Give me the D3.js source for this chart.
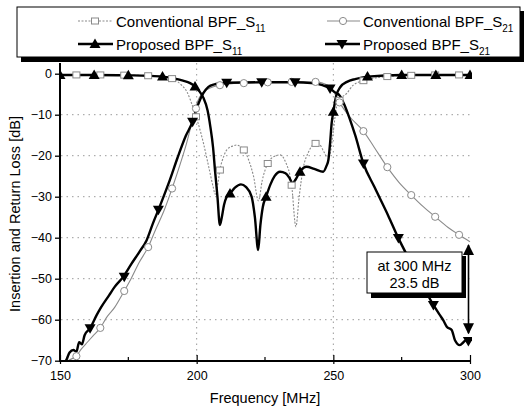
<!DOCTYPE html>
<html><head><meta charset="utf-8">
<script src="https://cdn.jsdelivr.net/npm/d3@7"></script>
<style>
html,body{margin:0;padding:0;background:#fff;}
svg{display:block;font-family:"Liberation Sans",Arial,sans-serif;}
</style></head>
<body><svg id="c" width="528" height="411"></svg>
<script>
// ---------- data ----------
const xTicks = [150, 200, 250, 300];
const xMinorTicks = [175, 225, 275];
const yTicks = [0, -10, -20, -30, -40, -50, -60, -70];
const gridY = [-10, -20, -30, -40, -50, -60];
const gridX = [200, 250];

// Conventional BPF S11 (curve)
const convS11F = [150,156,164.75,173.5,182.25,187,191,194,196.5,198.8,200.5,202.5,204.5,206,206.8,207.6,208.5,210,211,213.4,214.6,216,217.25,219,220.8,222.6,224,226,228,230.5,232.5,234.75,236.3,237.5,239,241,243.5,245,246.5,247.6,248.8,249.8,251.2,252.25,254.9,257.3,262.2,269.75,278.5,287.25,296,300];
const convS11V = [-0.3,-0.3,-0.3,-0.35,-0.5,-0.8,-1.2,-2.5,-4.5,-8.5,-12,-17,-23,-27.5,-29.4,-27.5,-23.5,-20,-18.6,-17.6,-17.4,-17.8,-18.6,-21,-25,-31,-26,-21.9,-20.3,-19.8,-21.5,-27.2,-37.3,-30,-23,-19,-17,-17.3,-19,-20.2,-19.5,-15,-8,-6.5,-4.8,-2.8,-1.5,-0.7,-0.4,-0.3,-0.3,-0.3];
// Conventional S11 square markers
const convS11MF = [156,164.75,173.5,182.25,191,199.75,208.5,217.25,226,234.75,243.5,252.25,261,269.75,278.5,287.25,296];
const convS11MV = [-0.3,-0.3,-0.35,-0.5,-1.2,-10.5,-23.5,-18.6,-21.9,-27.2,-17,-6.5,-1.7,-0.7,-0.4,-0.3,-0.3];

// Conventional BPF S21 (curve)
const convS21F = [150,153,155.9,158,160,162,164.75,167,170,173.5,176,179,182.25,185,188,191,194,196.3,198.8,200.5,202,204,206.1,208.5,212,217.25,226,234.75,243.5,246,248.8,250.5,252.25,256,261,265,269.75,274,278.5,283,287.25,292,296,300];
const convS21V = [-72,-70,-68.9,-67,-65.5,-64,-62,-59.5,-57,-53,-50,-46,-42.3,-38,-33.5,-28,-22,-17,-10.5,-6.5,-4.8,-3.8,-3.2,-2.8,-2.5,-2.3,-2.1,-2.0,-2.0,-2.3,-3.2,-4.8,-7.0,-10.5,-14,-18,-22.8,-26.5,-29.6,-32.5,-34.9,-37.5,-39.3,-41];
const convS21MF = [156,164.75,173.5,182.25,191,199.75,208.5,217.25,226,234.75,243.5,252.25,261,269.75,278.5,287.25,296];
const convS21MV = [-68.9,-62,-53,-42.3,-28,-8.5,-2.8,-2.3,-2.1,-2.0,-2.0,-7.0,-14,-22.8,-29.6,-34.9,-39.3];

// Proposed BPF S11 (curve)
const propS11F = [150,162.5,175,182,187.5,192,195,197.6,199.4,201,202.4,204,205,206,206.7,207.6,208.5,209.2,210,211,212.2,214,216.2,218,220.1,221.3,222.5,223.3,224.2,225.4,227,228.5,230.5,232.5,234,235.1,236.2,237.8,240.2,243,246.3,247.5,248.2,248.8,249.4,250,251,252.5,255,258,262.5,275,287.5,300];
const propS11V = [-0.3,-0.3,-0.4,-0.5,-0.7,-1.2,-1.7,-2.3,-3.1,-4.3,-5.8,-9,-12.9,-18,-23.5,-30,-36.9,-35,-32,-30,-29.2,-27.8,-27,-27.6,-30,-35,-43,-37,-32.5,-30,-27,-25,-23.9,-24.3,-25.5,-26.7,-25.8,-23.9,-22.7,-23.2,-23.9,-22.5,-21,-17,-12,-9.3,-5.5,-3.3,-2,-1.3,-0.7,-0.3,-0.3,-0.3];
const propS11MF = [150,162.5,175,187.5,199.4,212.2,225.4,237.8,250,262.5,275,287.5,300];
const propS11MV = [-0.3,-0.3,-0.4,-0.7,-3.1,-29.2,-30,-23.9,-9.3,-0.7,-0.3,-0.3,-0.3];

// Proposed BPF S21 (curve)
const propS21F = [150,152.4,153.5,154.9,156,157,158,159,161,163.4,165,168,170,173.2,176,179,181.7,184,186,188,190.2,193,196,198.5,200,201.2,202.5,204.3,206.5,208.5,211,223.8,236,242,246,248.8,250.5,252.4,254,256,258,261,265,270,273.8,278,282,286.6,289,290.2,291.5,293.3,294.5,296.3,297.6,298.5,299.4,300];
const propS21V = [-72,-69.7,-68,-67.4,-67.8,-65.5,-66,-63.8,-62.1,-58.9,-57,-54,-52,-49.5,-46.5,-43.5,-40.6,-36.5,-33.2,-29.8,-25.9,-20.5,-15.2,-11.7,-8.5,-6.4,-4.7,-3.2,-2.6,-2.4,-2.2,-2.1,-2.1,-2.3,-2.8,-3.6,-4.5,-5.4,-7.5,-11,-15,-21.9,-27.6,-34.5,-40.1,-45.6,-50.7,-56.4,-58.9,-60.1,-61.7,-62.5,-65,-66.2,-65.5,-65,-65.2,-64.5];
const propS21MF = [161,173.5,186,198.5,211,223.8,236,248.8,261,273.8,286.6,299.4];
const propS21MV = [-62.1,-49.5,-33.2,-11.7,-2.2,-2.1,-2.1,-3.6,-21.9,-40.1,-56.4,-65.2];

// annotation
const annoFreq = 300;
const annoTop = -41.8;
const annoBottom = -63.3;
const annoLines = ["at 300 MHz", "23.5 dB"];

const legendItems = [
  {name:"Conventional BPF_S", sub:"11", key:"convS11"},
  {name:"Conventional BPF_S", sub:"21", key:"convS21"},
  {name:"Proposed BPF_S", sub:"11", key:"propS11"},
  {name:"Proposed BPF_S", sub:"21", key:"propS21"}
];

// ---------- drawing ----------
const svg = d3.select("#c");
const x = d3.scaleLinear().domain([150,300]).range([60,470]);
const y = d3.scaleLinear().domain([-70,0]).range([360.7,73.7]);
const plotTop = 63;

svg.append("defs").append("clipPath").attr("id","clip")
  .append("rect").attr("x",60).attr("y",plotTop).attr("width",412).attr("height",361-plotTop+1);

// grid
const g = svg.append("g");
g.selectAll(".gy").data(gridY).join("line")
  .attr("x1",61).attr("x2",470).attr("y1",d=>y(d)).attr("y2",d=>y(d))
  .attr("stroke","#9a9a9a").attr("stroke-width",1).attr("stroke-dasharray","1.5,4");
g.selectAll(".gx").data(gridX).join("line")
  .attr("y1",plotTop).attr("y2",360).attr("x1",d=>x(d)).attr("x2",d=>x(d))
  .attr("stroke","#9a9a9a").attr("stroke-width",1).attr("stroke-dasharray","1.5,4");

const line = d3.line().x(d=>x(d[0])).y(d=>y(d[1])).curve(d3.curveMonotoneX);
const zip = (a,b)=>a.map((v,i)=>[v,b[i]]);
const plot = svg.append("g").attr("clip-path","url(#clip)");

const grey = "#8a8a8a";
plot.append("path").datum(zip(convS11F,convS11V)).attr("d",line)
  .attr("fill","none").attr("stroke",grey).attr("stroke-width",1.1).attr("stroke-dasharray","2,1.5");
plot.append("path").datum(zip(convS21F,convS21V)).attr("d",line)
  .attr("fill","none").attr("stroke",grey).attr("stroke-width",1.1);
plot.append("path").datum(zip(propS11F,propS11V)).attr("d",line)
  .attr("fill","none").attr("stroke","#000").attr("stroke-width",2.4);
plot.append("path").datum(zip(propS21F,propS21V)).attr("d",line)
  .attr("fill","none").attr("stroke","#000").attr("stroke-width",2.4);

function square(sel, cx, cy){ sel.append("rect").attr("x",cx-3.5).attr("y",cy-3).attr("width",7).attr("height",6)
  .attr("fill","#fff").attr("stroke",grey).attr("stroke-width",1); }
function circle(sel, cx, cy){ sel.append("circle").attr("cx",cx).attr("cy",cy).attr("r",3.6)
  .attr("fill","#fff").attr("stroke",grey).attr("stroke-width",1); }
function triUp(sel, cx, cy){ sel.append("path").attr("d",`M${cx},${cy-5.5}L${cx+5.5},${cy+4}L${cx-5.5},${cy+4}Z`).attr("fill","#000"); }
function triDown(sel, cx, cy){ sel.append("path").attr("d",`M${cx},${cy+5.5}L${cx+5.5},${cy-4}L${cx-5.5},${cy-4}Z`).attr("fill","#000"); }

zip(convS11MF,convS11MV).forEach(d=>square(plot,x(d[0]),y(d[1])));
zip(convS21MF,convS21MV).forEach(d=>circle(plot,x(d[0]),y(d[1])));
zip(propS11MF,propS11MV).forEach(d=>triUp(plot,x(d[0]),y(d[1])));
zip(propS21MF,propS21MV).forEach(d=>triDown(plot,x(d[0]),y(d[1])));

// axes
const yAxis = svg.append("g").attr("transform","translate(60,0)")
  .call(d3.axisLeft(y).tickValues(yTicks).tickSize(5).tickPadding(3).tickFormat(d3.format("d")));
yAxis.select(".domain").remove();
yAxis.selectAll("text").attr("font-size",12.5).attr("font-family","Liberation Sans, Arial");
yAxis.selectAll("line").attr("stroke-width",1.3);
svg.append("line").attr("x1",60).attr("x2",60).attr("y1",plotTop).attr("y2",362)
  .attr("stroke","#000").attr("stroke-width",2);

const xAxis = svg.append("g").attr("transform","translate(0,361)")
  .call(d3.axisBottom(x).tickValues(xTicks).tickSize(3).tickPadding(7).tickFormat(d3.format("d")));
xAxis.select(".domain").remove();
xAxis.selectAll("text").attr("font-size",12.5).attr("font-family","Liberation Sans, Arial");
xAxis.selectAll(".tick line").attr("y1",-6).attr("stroke-width",1.2);
svg.selectAll(".minx").data(xMinorTicks).join("line")
  .attr("x1",d=>x(d)).attr("x2",d=>x(d)).attr("y1",361).attr("y2",357)
  .attr("stroke","#000").attr("stroke-width",1.2);
svg.append("line").attr("x1",59).attr("x2",471).attr("y1",361).attr("y2",361)
  .attr("stroke","#000").attr("stroke-width",2);

// axis titles
svg.append("text").attr("x",265).attr("y",403).attr("text-anchor","middle")
  .attr("font-size",14.5).text("Frequency [MHz]");
svg.append("text").attr("transform","translate(20,214) rotate(-90)").attr("text-anchor","middle")
  .attr("font-size",14.5).text("Insertion and Return Loss [dB]");

// legend
svg.append("rect").attr("x",21).attr("y",11).attr("width",503).attr("height",51).attr("fill","#000");
svg.append("rect").attr("x",17).attr("y",7).attr("width",503).attr("height",50)
  .attr("fill","#fff").attr("stroke","#000").attr("stroke-width",1);
const lgPos = [[78,21],[327,21],[78,44],[327,44]];
legendItems.forEach((it,i)=>{
  const [lx,ly] = lgPos[i];
  const lg = svg.append("g");
  if (it.key==="convS11"){
    lg.append("line").attr("x1",lx).attr("x2",lx+35).attr("y1",ly).attr("y2",ly)
      .attr("stroke",grey).attr("stroke-dasharray","2,1.5").attr("stroke-width",1.1);
    square(lg, lx+17, ly);
  } else if (it.key==="convS21"){
    lg.append("line").attr("x1",lx).attr("x2",lx+33).attr("y1",ly).attr("y2",ly)
      .attr("stroke",grey).attr("stroke-width",1.1);
    circle(lg, lx+16, ly);
  } else if (it.key==="propS11"){
    lg.append("line").attr("x1",lx).attr("x2",lx+35).attr("y1",ly).attr("y2",ly)
      .attr("stroke","#000").attr("stroke-width",2.4);
    triUp(lg, lx+17, ly);
  } else {
    lg.append("line").attr("x1",lx-2).attr("x2",lx+33).attr("y1",ly).attr("y2",ly)
      .attr("stroke","#000").attr("stroke-width",2.4);
    triDown(lg, lx+15, ly);
  }
  const t = lg.append("text").attr("x",lx+(i%2?36:38)).attr("y",ly+5.5).attr("font-size",15);
  t.append("tspan").text(it.name);
  t.append("tspan").attr("font-size",10).attr("dy",5).text(it.sub);
});

// annotation
const ax = x(annoFreq)-1.5;
const defs = svg.select("defs");
defs.append("marker").attr("id","ah").attr("viewBox","0 0 10 10").attr("refX",9).attr("refY",5)
  .attr("markerWidth",7).attr("markerHeight",7).attr("orient","auto-start-reverse")
  .append("path").attr("d","M0,0L10,5L0,10Z").attr("fill","#000");
svg.append("line").attr("x1",ax).attr("x2",ax).attr("y1",y(annoTop)).attr("y2",y(annoBottom))
  .attr("stroke","#000").attr("stroke-width",1.6)
  .attr("marker-start","url(#ah)").attr("marker-end","url(#ah)");
svg.append("rect").attr("x",371).attr("y",256).attr("width",95).attr("height",42).attr("fill","#000");
svg.append("rect").attr("x",367).attr("y",252).attr("width",95).attr("height",41)
  .attr("fill","#fff").attr("stroke","#000").attr("stroke-width",1);
annoLines.forEach((s,i)=>{
  svg.append("text").attr("x",414.5).attr("y",271+i*16.5).attr("text-anchor","middle")
    .attr("font-size",14.5).text(s);
});
</script></body></html>
